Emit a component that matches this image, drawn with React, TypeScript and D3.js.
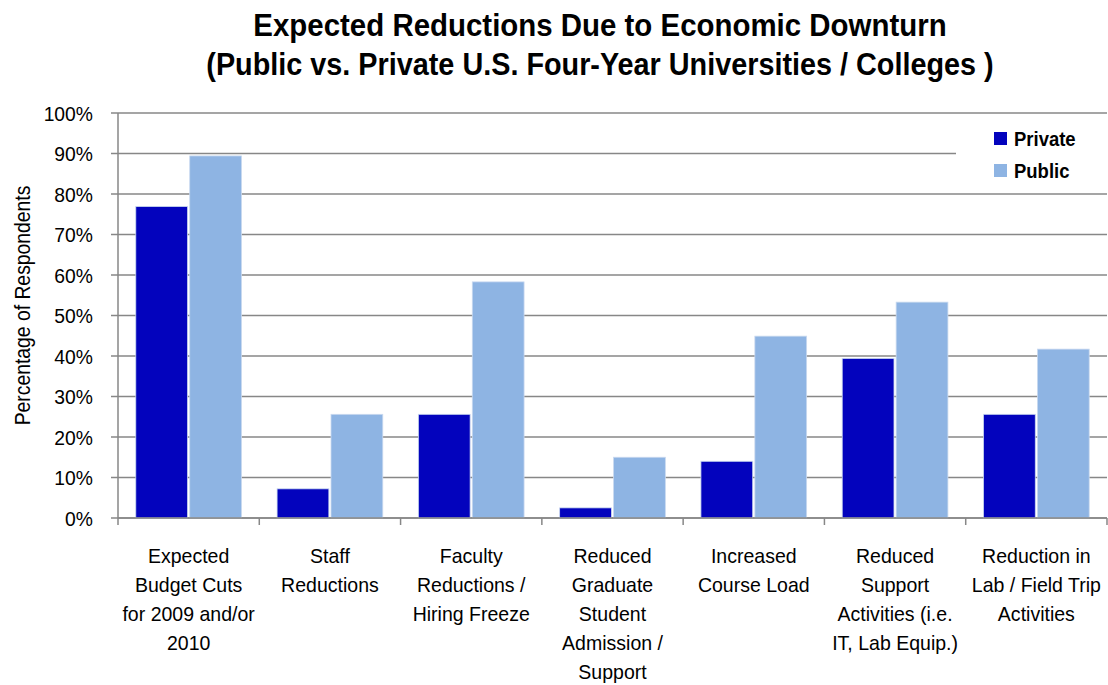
import React from "react";
import * as d3 from "d3";

const categories: string[][] = [
  ["Expected", "Budget Cuts", "for 2009 and/or", "2010"],
  ["Staff", "Reductions"],
  ["Faculty", "Reductions /", "Hiring Freeze"],
  ["Reduced", "Graduate", "Student", "Admission /", "Support"],
  ["Increased", "Course Load"],
  ["Reduced", "Support", "Activities  (i.e.", "IT, Lab Equip.)"],
  ["Reduction in", "Lab / Field Trip", "Activities"],
];
const seriesNames = ["Private", "Public"];
const privateValues = [0.769, 0.072, 0.256, 0.025, 0.14, 0.394, 0.256];
const publicValues = [0.894, 0.256, 0.583, 0.15, 0.449, 0.533, 0.417];
const yTicks = [0, 0.1, 0.2, 0.3, 0.4, 0.5, 0.6, 0.7, 0.8, 0.9, 1.0];
const titleLines = [
  "Expected Reductions Due to Economic Downturn",
  "(Public vs. Private U.S. Four-Year Universities / Colleges )",
];
const colors = ["#0303BD", "#8EB4E3"];

const FONT = "'Liberation Sans', Arial, sans-serif";

export default function App() {
  const W = 1108, H = 685;
  const left = 118, right = 1107, top = 113, bottom = 518;
  const idx = categories.map((_, i) => String(i));
  const x0 = d3.scaleBand<string>().domain(idx).range([left, right]).padding(0);
  const x1 = d3.scaleBand<string>().domain(seriesNames).range([0, x0.bandwidth()]).paddingInner(0.04).paddingOuter(0.33);
  const y = d3.scaleLinear().domain([0, 1]).range([bottom, top]);
  const fmt = d3.format(".0%");
  const data = [privateValues, publicValues];
  const gridColor = "#878787";
  const titleScale = [0.92, 0.9];

  return (
    <svg width={W} height={H} style={{ position: "absolute", left: 0, top: 0, background: "#fff" }} fontFamily={FONT}>
      {titleLines.map((t, i) => (
        <text key={i} transform={`translate(600,${36 + i * 39}) scale(${titleScale[i]},1)`} textAnchor="middle" fontSize={32} fontWeight="bold" fill="#000">{t}</text>
      ))}
      {/* gridlines */}
      {yTicks.map((t) => (
        <line key={t} x1={left} x2={right} y1={y(t)} y2={y(t)} stroke={gridColor} strokeWidth={1.5} />
      ))}
      {/* y ticks */}
      {yTicks.map((t) => (
        <g key={"t" + t}>
          <line x1={left - 7} x2={left} y1={y(t)} y2={y(t)} stroke={gridColor} strokeWidth={1.5} />
          <text transform={`translate(93,${y(t)}) scale(0.92,1)`} dy="0.36em" textAnchor="end" fontSize={21} fill="#000">{fmt(t)}</text>
        </g>
      ))}
      <text transform={`translate(30,${(top + bottom) / 2 - 10}) rotate(-90) scale(0.9,1)`} textAnchor="middle" fontSize={21.5} fill="#000">Percentage of Respondents</text>
      {/* legend background */}
      <rect x={956} y={122} width={152} height={64} fill="#fff" />
      {/* bars */}
      {data.map((vals, s) =>
        vals.map((v, i) => (
          <rect key={s + "-" + i}
            x={(x0(String(i)) as number) + (x1(seriesNames[s]) as number)}
            y={y(v)} width={x1.bandwidth()} height={bottom - y(v)}
            fill={colors[s]} stroke="#C9D9EF" strokeWidth={0.8} />
        ))
      )}
      {/* x axis */}
      <line x1={left} x2={right} y1={bottom} y2={bottom} stroke={gridColor} strokeWidth={1.5} />
      <line x1={left} x2={left} y1={top} y2={bottom} stroke={gridColor} strokeWidth={1.5} />
      {d3.range(categories.length + 1).map((i) => {
        const xx = left + i * x0.step();
        return <line key={"xt" + i} x1={xx} x2={xx} y1={bottom} y2={bottom + 7} stroke={gridColor} strokeWidth={1.5} />;
      })}
      {categories.map((lines, i) => (
        <g key={"c" + i} transform={`translate(${(x0(String(i)) as number) + x0.bandwidth() / 2},0) scale(0.93,1)`}>
          <text textAnchor="middle" fontSize={21} fill="#000">
            {lines.map((l, j) => (
              <tspan key={j} x={0} y={563.5 + j * 29}>{l}</tspan>
            ))}
          </text>
        </g>
      ))}
      {/* legend */}
      {seriesNames.map((n, i) => (
        <g key={n}>
          <rect x={994} y={132 + i * 32} width={13} height={13} fill={colors[i]} />
          <text transform={`translate(1014,${146 + i * 32}) scale(0.88,1)`} fontSize={21} fontWeight="bold" fill="#000">{n}</text>
        </g>
      ))}
    </svg>
  );
}
